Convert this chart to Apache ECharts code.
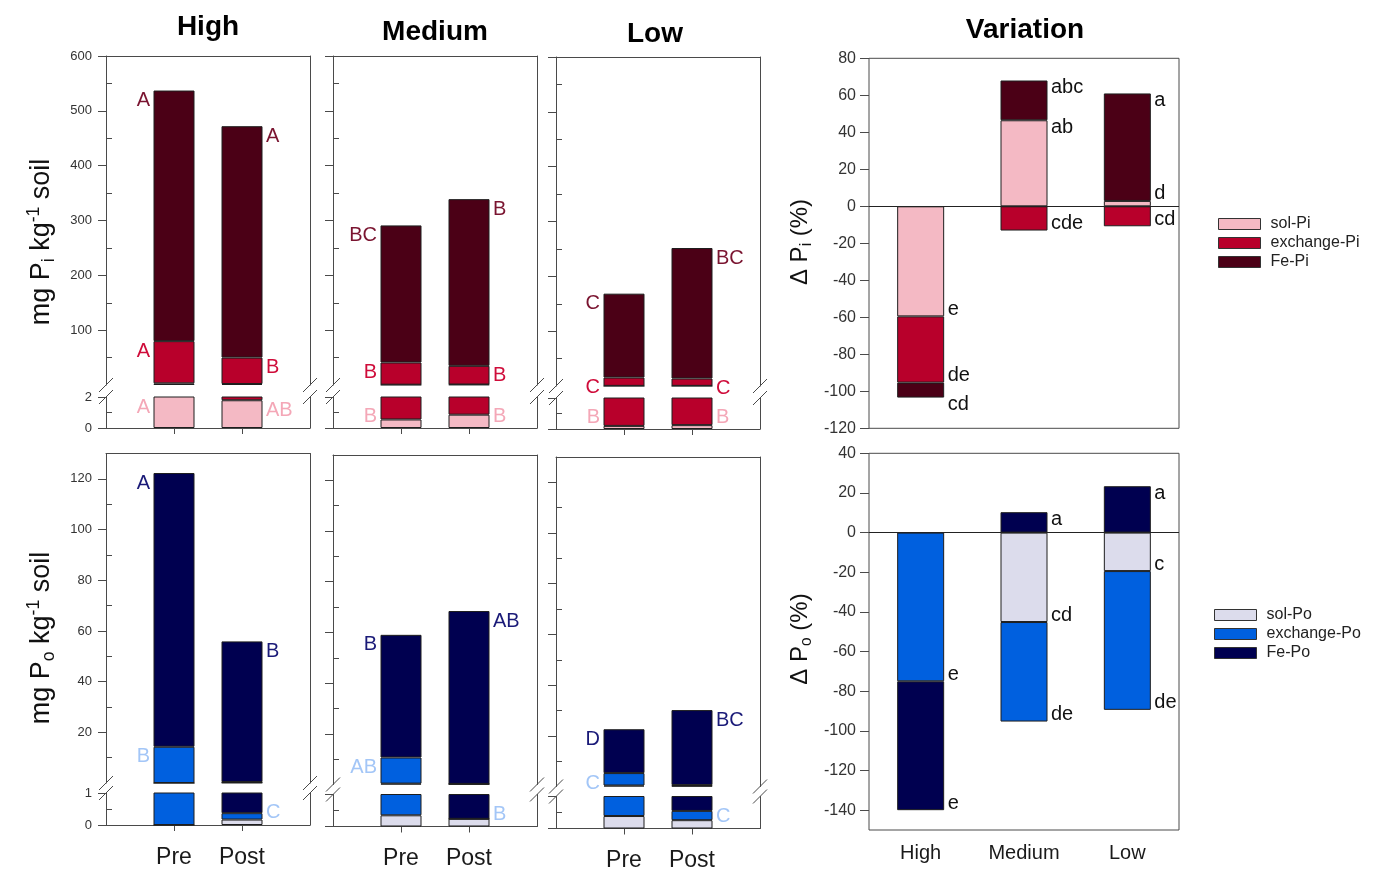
<!DOCTYPE html>
<html>
<head>
<meta charset="utf-8">
<script src="https://cdn.jsdelivr.net/npm/echarts@6.0.0/dist/echarts.min.js"></script>
<style>
html, body { margin: 0; padding: 0; background: #fff; }
#chart { width: 1373px; height: 871px; }
</style>
</head>
<body>
<div id="chart"></div>
<script>
var sites = ['High', 'Medium', 'Low'];
var periods = ['', 'Pre', 'Post', ' '];

// mg Pi kg-1 soil, [Pre, Post] for each site
var piSol = [[3.0, 1.79], [0.55, 0.86], [0.2, 0.25]];
var piExch = [[77, 48.2], [40.5, 34.1], [15.2, 13.4]];
var piFe = [[457, 422], [250, 304], [153, 238]];
// mg Po kg-1 soil
var poSol = [[0, 0.17], [0.35, 0.24], [0.39, 0.26]];
var poExch = [[14.3, 0.2], [10.3, 0], [4.9, 0.29]];
var poFe = [[108, 55.5], [48.4, 68.2], [17.3, 29.6]];

// significance letters [Pre, Post]
var piSolLetters = [['A', 'AB'], ['B', 'B'], ['B', 'B']];
var piExchLetters = [['A', 'B'], ['B', 'B'], ['C', 'C']];
var piFeLetters = [['A', 'A'], ['BC', 'B'], ['C', 'BC']];
var poExchLetters = [['B', 'C'], ['AB', 'B'], ['C', 'C']];
var poFeLetters = [['A', 'B'], ['B', 'AB'], ['D', 'BC']];

// variation (%), High / Medium / Low
var dPiSol = [-59.5, 46.5, 2.9];
var dPiExch = [-35.8, -13.1, -10.8];
var dPiFe = [-8.1, 21.5, 58.1];
var dPoSol = [0, -45.1, -19.4];
var dPoExch = [-75, -50.2, -70];
var dPoFe = [-65, 10.3, 23.4];
var dPiLetters = [['e', 'ab', 'd'], ['de', 'cde', 'cd'], ['cd', 'abc', 'a']];
var dPoLetters = [[null, 'cd', 'c'], ['e', 'de', 'de'], ['e', 'a', 'a']];

// tick values
var piTicks = [100, 200, 300, 400, 500, 600];
var piMinor = [50, 150, 250, 350, 450, 550];
var piLowTicks = [0, 2];
var piLowMinor = [1];
var poTicks = [20, 40, 60, 80, 100, 120];
var poMinor = [10, 30, 50, 70, 90, 110];
var poLowTicks = [0, 1];
var poLowMinor = [0.5];
var dPiTicks = [-120, -100, -80, -60, -40, -20, 0, 20, 40, 60, 80];
var dPoTicks = [-140, -120, -100, -80, -60, -40, -20, 0, 20, 40];

var FONT = '"Liberation Sans", Arial, Helvetica, sans-serif';
var AX = '#4a4a4a';
var EDGE = '#1e1e1e';
var colX = [106, 333, 556];
var colW = 204;
var BAR_W = 41;

var rowsCfg = [
    {
        segs: [piSol, piExch, piFe], names: ['sol-Pi', 'exchange-Pi', 'Fe-Pi'],
        colors: ['#f4b9c4', '#b8002b', '#4b0016'],
        letters: [piSolLetters, piExchLetters, piFeLetters],
        letterColors: ['#f4a7b7', '#cf0c3a', '#7a1430'],
        ticks: [piTicks, piLowTicks], minor: [piMinor, piLowMinor],
        max: [600, 2], top: [56, 397], height: [329, 31], shift: [0, 0, 1]
    },
    {
        segs: [poSol, poExch, poFe], names: ['sol-Po', 'exchange-Po', 'Fe-Po'],
        colors: ['#dcdcec', '#0060df', '#000050'],
        letters: [null, poExchLetters, poFeLetters],
        letterColors: [null, '#a3c6f7', '#1a1a78'],
        ticks: [poTicks, poLowTicks], minor: [poMinor, poLowMinor],
        max: [130, 1], top: [453.5, 793], height: [329.5, 32], shift: [0, 1.5, 3.5]
    }
];

function isPeriod(i) {
    return i === 1 || i === 2;
}

// letters of the Pre / Post bars: upper part of the broken axis or lower part
function leftLetters(R, c, p) {
    var lowMax = R.max[1];
    var out = [];
    [0, 1].forEach(function (t) {
        var cum = 0;
        R.segs.forEach(function (seg, k) {
            cum += seg[c][t];
            if (!R.letters[k]) return;
            var upper = k > 0 && cum > lowMax;
            if (upper !== (p === 0)) return;
            var y = upper ? cum : Math.max(Math.min(cum, lowMax * 0.999), lowMax * 0.7);
            out.push({
                name: R.letters[k][c][t], value: [periods[t + 1], y],
                label: { position: t === 0 ? 'left' : 'right', color: R.letterColors[k] }
            });
        });
    });
    return out;
}

// letters at the end of each stacked segment of the variation bars
function varLetters(vals, lets) {
    var out = [];
    sites.forEach(function (site, c) {
        var pos = 0, neg = 0, lastPos = null, lastNeg = null;
        vals.forEach(function (v, k) {
            var end, last;
            if (v[c] >= 0) { pos += v[c]; end = pos; last = lastPos; }
            else { neg += v[c]; end = neg; last = lastNeg; }
            if (!lets[k][c]) return;
            var inward = Math.abs(end) >= 8 && !(last !== null && Math.abs(end - last) < 10);
            var dy = (end >= 0 ? 7 : -7) * (inward ? 1 : -1);
            out.push({ name: lets[k][c], value: [site, end], label: { offset: [0, dy] } });
            if (end >= 0) lastPos = end; else lastNeg = end;
        });
    });
    return out;
}

var grid = [], xAxis = [], yAxis = [], series = [], graphic = [];

rowsCfg.forEach(function (R, r) {
    sites.forEach(function (site, c) {
        [0, 1].forEach(function (p) {
            var gi = grid.length;
            var yi = yAxis.length;
            grid.push({ left: colX[c], top: R.top[p] + R.shift[c], width: colW, height: R.height[p], outerBoundsMode: 'none' });
            xAxis.push({
                gridIndex: gi, type: 'category', data: periods, boundaryGap: false,
                position: p === 0 ? 'top' : 'bottom',
                axisLine: { show: true, onZero: false, lineStyle: { color: AX } },
                axisTick: { show: p === 1, length: 6, interval: isPeriod, lineStyle: { color: AX } },
                axisLabel: { show: p === 1 && r === 1, interval: isPeriod, fontSize: 23, color: '#1a1a1a', margin: 21 },
                splitLine: { show: false }
            });
            yAxis.push({
                gridIndex: gi, type: 'value', min: 0, max: R.max[p], position: 'left',
                axisLine: { show: true, lineStyle: { color: AX } },
                axisTick: { show: true, length: 8, customValues: R.ticks[p], lineStyle: { color: AX } },
                axisLabel: { show: c === 0, customValues: R.ticks[p], fontSize: 13, color: '#333', margin: 14 },
                splitLine: { show: false }
            });
            yAxis.push({
                gridIndex: gi, type: 'value', min: 0, max: R.max[p], position: 'left',
                axisLine: { show: false },
                axisTick: { show: true, inside: true, length: 6, customValues: R.minor[p], lineStyle: { color: AX } },
                axisLabel: { show: false },
                splitLine: { show: false }
            });
            yAxis.push({
                gridIndex: gi, type: 'value', min: 0, max: R.max[p], position: 'right',
                axisLine: { show: true, lineStyle: { color: AX } },
                axisTick: { show: false }, axisLabel: { show: false }, splitLine: { show: false }
            });
            R.segs.forEach(function (seg, k) {
                series.push({
                    type: 'bar', name: R.names[k], xAxisIndex: gi, yAxisIndex: yi, stack: 'g' + gi,
                    barWidth: BAR_W, clip: true, data: ['-', seg[c][0], seg[c][1], '-'],
                    itemStyle: { color: R.colors[k], borderColor: EDGE, borderWidth: 1 }
                });
            });
            series.push({
                type: 'scatter', name: 'letters' + gi, xAxisIndex: gi, yAxisIndex: yi,
                symbolSize: 0, silent: true, z: 5, itemStyle: { opacity: 1 },
                label: { show: true, formatter: '{b}', fontSize: 20, distance: 24, offset: [0, 10], opacity: 1 },
                data: leftLetters(R, c, p)
            });
        });
        // break marks on both sides of the panel
        var yA = R.top[0] + R.height[0] + R.shift[c];
        var yB = R.top[1] + R.shift[c];
        [colX[c], colX[c] + colW].forEach(function (x) {
            [yA, yB].forEach(function (y) {
                graphic.push({
                    type: 'line', silent: true,
                    shape: { x1: x - 7, y1: y + 7, x2: x + 7, y2: y - 7 },
                    style: { stroke: AX, lineWidth: 1 }
                });
            });
        });
    });
});

var varCfg = [
    { vals: [dPiSol, dPiExch, dPiFe], letters: dPiLetters, R: rowsCfg[0], min: -120, max: 80, ticks: dPiTicks, top: 58.3, height: 370, labels: false },
    { vals: [dPoSol, dPoExch, dPoFe], letters: dPoLetters, R: rowsCfg[1], min: -150, max: 40, ticks: dPoTicks, top: 453.3, height: 376.7, labels: true }
];

varCfg.forEach(function (V) {
    var gi = grid.length;
    var xi = xAxis.length;
    var yi = yAxis.length;
    grid.push({ left: 869, top: V.top, width: 310, height: V.height, show: true, borderColor: AX, borderWidth: 1, outerBoundsMode: 'none' });
    xAxis.push({
        gridIndex: gi, type: 'category', data: sites,
        axisLine: { show: false },
        axisTick: { show: true, alignWithLabel: true, length: 7, lineStyle: { color: AX } },
        axisLabel: { show: V.labels, fontSize: 20, color: '#1a1a1a', margin: 13 },
        splitLine: { show: false }
    });
    yAxis.push({
        gridIndex: gi, type: 'value', min: V.min, max: V.max,
        axisLine: { show: false },
        axisTick: { show: true, length: 9, customValues: V.ticks, lineStyle: { color: AX } },
        axisLabel: { customValues: V.ticks, fontSize: 16, color: '#333', margin: 13 },
        splitLine: { show: false }
    });
    V.vals.forEach(function (vals, k) {
        var s = {
            type: 'bar', name: V.R.names[k], xAxisIndex: xi, yAxisIndex: yi, stack: 'v' + gi,
            barWidth: 47, data: vals,
            itemStyle: { color: V.R.colors[k], borderColor: EDGE, borderWidth: 1 }
        };
        if (k === 0) {
            s.markLine = {
                silent: true, symbol: ['none', 'none'], label: { show: false },
                lineStyle: { color: '#222', width: 1, type: 'solid' },
                data: [{ yAxis: 0 }]
            };
        }
        series.push(s);
    });
    series.push({
        type: 'scatter', name: 'vletters' + gi, xAxisIndex: xi, yAxisIndex: yi,
        symbolSize: 0, silent: true, z: 5, itemStyle: { opacity: 1 },
        label: { show: true, formatter: '{b}', position: 'right', distance: 27, fontSize: 20, color: '#111', opacity: 1 },
        data: varLetters(V.vals, V.letters)
    });
});

// titles
[['High', 208, 27], ['Medium', 435, 32], ['Low', 655, 34], ['Variation', 1025, 30]].forEach(function (t) {
    graphic.push({
        type: 'text', x: t[1], y: t[2], silent: true,
        style: { text: t[0], fontSize: 28, fontWeight: 'bold', fontFamily: FONT, fill: '#000', align: 'center', verticalAlign: 'middle' }
    });
});

// rotated axis titles
function axisRich(size) {
    return {
        m: { fontSize: size, lineHeight: size + 6, fontFamily: FONT, fill: '#111' },
        sub: { fontSize: size * 0.65, verticalAlign: 'bottom', lineHeight: size * 0.65, fontFamily: FONT, fill: '#111' },
        sup: { fontSize: size * 0.65, verticalAlign: 'top', lineHeight: size * 0.65, fontFamily: FONT, fill: '#111' }
    };
}
[
    ['{m|mg P}{sub|i}{m| kg}{sup|-1}{m| soil}', 42, 242, 27],
    ['{m|mg P}{sub|o}{m| kg}{sup|-1}{m| soil}', 42, 638, 27],
    ['{m|\u0394 P}{sub|i}{m| (%)}', 800, 242, 24],
    ['{m|\u0394 P}{sub|o}{m| (%)}', 800, 639, 24]
].forEach(function (t) {
    graphic.push({
        type: 'text', x: t[1], y: t[2], rotation: Math.PI / 2, silent: true,
        style: { text: t[0], rich: axisRich(t[3]), align: 'center', verticalAlign: 'middle', fontFamily: FONT }
    });
});

var legendBase = {
    orient: 'vertical', itemWidth: 42, itemHeight: 11, itemGap: 3, icon: 'rect', selectedMode: false, padding: 0,
    textStyle: { fontSize: 16, color: '#222', lineHeight: 16, padding: [0, 0, 0, 5] },
    itemStyle: { borderColor: '#333', borderWidth: 1 }
};

var option = {
    animation: false,
    backgroundColor: '#fff',
    textStyle: { fontFamily: FONT },
    legend: [
        Object.assign({}, legendBase, { data: rowsCfg[0].names, left: 1218, top: 216 }),
        Object.assign({}, legendBase, { data: rowsCfg[1].names, left: 1214, top: 607 })
    ],
    grid: grid,
    xAxis: xAxis,
    yAxis: yAxis,
    series: series,
    graphic: graphic
};

var chart = echarts.init(document.getElementById('chart'));
chart.setOption(option);
</script>
</body>
</html>
